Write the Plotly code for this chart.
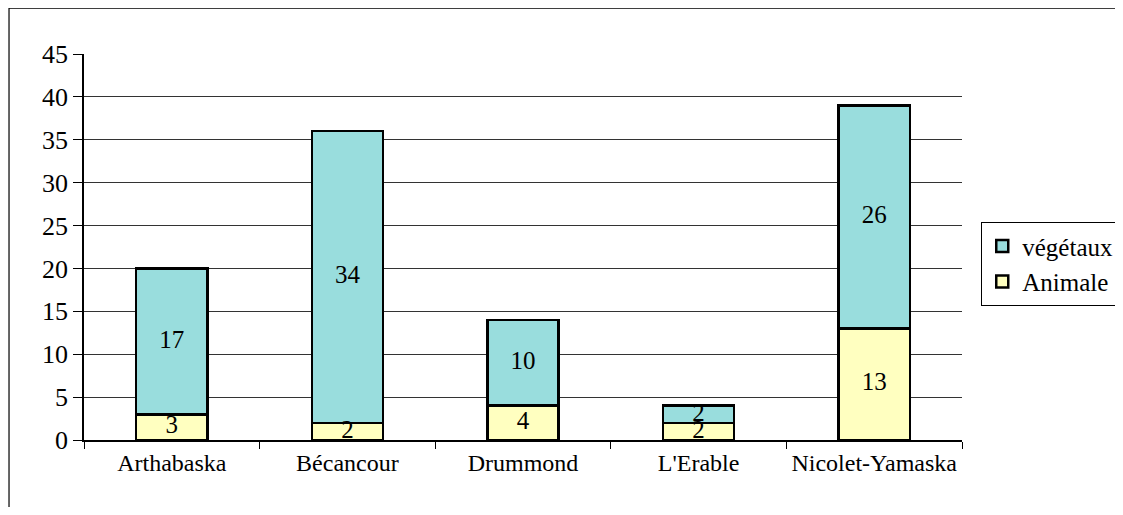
import plotly.graph_objects as go

categories = ["Arthabaska", "Bécancour", "Drummond", "L'Erable", "Nicolet-Yamaska"]
animale = [3, 2, 4, 2, 13]
vegetaux = [17, 34, 10, 2, 26]
y_ticks = [0, 5, 10, 15, 20, 25, 30, 35, 40, 45]

FONT = "Liberation Serif"
TEAL = "#99DDDD"
YELLOW = "#FFFFC0"

fig = go.Figure()
fig.add_trace(go.Bar(name="Animale", x=categories, y=animale,
                     marker=dict(color=YELLOW, line=dict(color="black", width=2.5)),
                     width=0.405))
fig.add_trace(go.Bar(name="végétaux", x=categories, y=vegetaux,
                     marker=dict(color=TEAL, line=dict(color="black", width=2.5)),
                     width=0.405))

# value labels centred in each segment
lab_x, lab_y, lab_t = [], [], []
for c, a, v in zip(categories, animale, vegetaux):
    lab_x += [c, c]
    lab_y += [a / 2, a + v / 2]
    lab_t += [str(a), str(v)]
fig.add_trace(go.Scatter(x=lab_x, y=lab_y, text=lab_t, mode="text",
                         textfont=dict(family=FONT, size=25, color="black"),
                         showlegend=False, hoverinfo="skip", cliponaxis=False))

fig.add_shape(type="rect", xref="paper", yref="paper",
              x0=-0.0854, x1=1.4, y0=-0.5, y1=1.119,
              line=dict(color="black", width=1.2), layer="below")

fig.update_layout(
    barmode="stack",
    width=1107, height=499,
    margin=dict(l=76, r=153, t=46, b=67),
    paper_bgcolor="white", plot_bgcolor="white",
    font=dict(family=FONT, color="black"),
    showlegend=True,
    legend=dict(xref="container", yref="container",
                x=0.8790, y=0.5711, xanchor="left", yanchor="top",
                traceorder="reversed",
                bordercolor="black", borderwidth=1.2,
                font=dict(family=FONT, size=25), itemwidth=30,
                tracegroupgap=0),
    xaxis=dict(type="category", showline=True, linecolor="black", linewidth=1.5,
               ticks="outside", tickson="boundaries", ticklen=7, tickcolor="black",
               showgrid=False, tickfont=dict(family=FONT, size=24)),
    yaxis=dict(range=[0, 45], tickvals=y_ticks, showline=True, linecolor="black",
               linewidth=1.5, ticks="outside", ticklen=9, tickcolor="black",
               showgrid=True, gridcolor="#333333", gridwidth=1,
               zeroline=False, tickfont=dict(family=FONT, size=26)),
)

fig.write_html("out.html")
